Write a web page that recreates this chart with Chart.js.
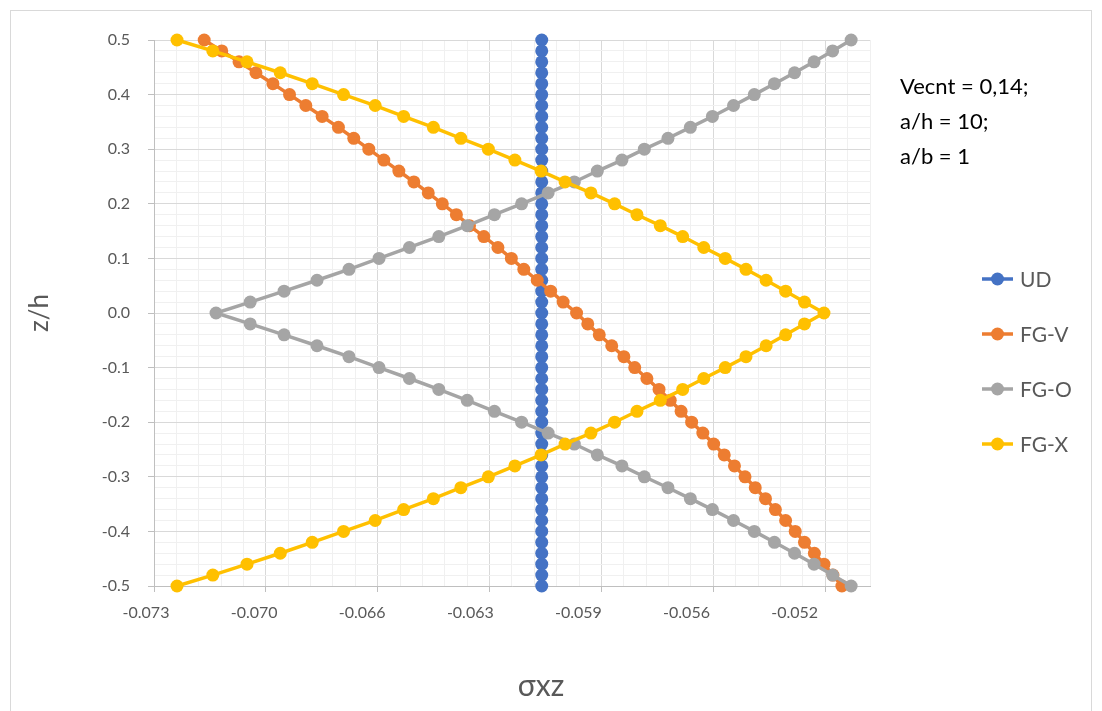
<!DOCTYPE html>
<html>
<head>
<meta charset="utf-8">
<title>σxz through the thickness</title>
<script src="https://cdn.jsdelivr.net/npm/chart.js@4.4.1/dist/chart.umd.min.js"></script>
<style>
  html, body { margin: 0; padding: 0; background: #ffffff; overflow: hidden; }
  #wrap { position: relative; width: 1102px; height: 711px; }
  #wrap canvas { position: absolute; left: 0; top: 0; }
  #frame { position: absolute; left: 10px; top: 10px; width: 1082px; height: 720px;
           border: 1px solid #d9d9d9; box-sizing: border-box; pointer-events: none; }
</style>
</head>
<body>
<div id="wrap">
  <canvas id="chart" width="1102" height="711"></canvas>
  <div id="frame"></div>
</div>
<script>
// Thickness coordinate z/h, top surface to bottom surface
const zValues = [
  0.50, 0.48, 0.46, 0.44, 0.42, 0.40, 0.38, 0.36, 0.34, 0.32,
  0.30, 0.28, 0.26, 0.24, 0.22, 0.20, 0.18, 0.16, 0.14, 0.12,
  0.10, 0.08, 0.06, 0.04, 0.02, 0.00, -0.02, -0.04, -0.06, -0.08,
  -0.10, -0.12, -0.14, -0.16, -0.18, -0.20, -0.22, -0.24, -0.26, -0.28,
  -0.30, -0.32, -0.34, -0.36, -0.38, -0.40, -0.42, -0.44, -0.46, -0.48,
  -0.50
];

// Shear stress σxz for each CNT distribution
const udValues = [
  -0.06087, -0.06087, -0.06087, -0.06087, -0.06087, -0.06087, -0.06087, -0.06087, -0.06087, -0.06087,
  -0.06087, -0.06087, -0.06087, -0.06087, -0.06087, -0.06087, -0.06087, -0.06087, -0.06087, -0.06087,
  -0.06087, -0.06087, -0.06087, -0.06087, -0.06087, -0.06087, -0.06087, -0.06087, -0.06087, -0.06087,
  -0.06087, -0.06087, -0.06087, -0.06087, -0.06087, -0.06087, -0.06087, -0.06087, -0.06087, -0.06087,
  -0.06087, -0.06087, -0.06087, -0.06087, -0.06087, -0.06087, -0.06087, -0.06087, -0.06087, -0.06087,
  -0.06087
];

const fgvValues = [
  -0.07143, -0.07088, -0.07034, -0.06981, -0.06928, -0.06876, -0.06825, -0.06774, -0.06723, -0.06675,
  -0.06628, -0.06581, -0.06534, -0.06487, -0.06442, -0.06398, -0.06354, -0.06313, -0.06268, -0.06224,
  -0.06182, -0.06143, -0.06101, -0.06059, -0.06020, -0.05978, -0.05943, -0.05907, -0.05868, -0.05830,
  -0.05796, -0.05758, -0.05720, -0.05685, -0.05651, -0.05618, -0.05583, -0.05549, -0.05516, -0.05484,
  -0.05451, -0.05419, -0.05387, -0.05356, -0.05324, -0.05294, -0.05265, -0.05234, -0.05204, -0.05176,
  -0.05148
];

const fgoValues = [
  -0.05119, -0.05177, -0.05235, -0.05296, -0.05359, -0.05422, -0.05487, -0.05553, -0.05622, -0.05692,
  -0.05766, -0.05836, -0.05913, -0.05985, -0.06067, -0.06150, -0.06235, -0.06320, -0.06409, -0.06501,
  -0.06596, -0.06690, -0.06790, -0.06893, -0.06999, -0.07106, -0.06999, -0.06893, -0.06790, -0.06690,
  -0.06596, -0.06501, -0.06409, -0.06320, -0.06235, -0.06150, -0.06067, -0.05985, -0.05913, -0.05836,
  -0.05766, -0.05692, -0.05622, -0.05553, -0.05487, -0.05422, -0.05359, -0.05296, -0.05235, -0.05177,
  -0.05119
];

const fgxValues = [
  -0.07228, -0.07116, -0.07009, -0.06905, -0.06805, -0.06707, -0.06608, -0.06519, -0.06426, -0.06340,
  -0.06254, -0.06171, -0.06089, -0.06014, -0.05933, -0.05859, -0.05789, -0.05716, -0.05646, -0.05580,
  -0.05513, -0.05448, -0.05385, -0.05324, -0.05265, -0.05204, -0.05265, -0.05324, -0.05385, -0.05448,
  -0.05513, -0.05580, -0.05646, -0.05716, -0.05789, -0.05859, -0.05933, -0.06014, -0.06089, -0.06171,
  -0.06254, -0.06340, -0.06426, -0.06519, -0.06608, -0.06707, -0.06805, -0.06905, -0.07009, -0.07116,
  -0.07228
];

const seriesNames  = ['UD', 'FG-V', 'FG-O', 'FG-X'];
const seriesColors = ['#4472C4', '#ED7D31', '#A5A5A5', '#FFC000'];
const seriesValues = [udValues, fgvValues, fgoValues, fgxValues];

// Axis tick labels (major ticks)
const xTickLabels = ['-0.073', '-0.070', '-0.066', '-0.063', '-0.059', '-0.056', '-0.052'];
const yTickLabels = ['-0.5', '-0.4', '-0.3', '-0.2', '-0.1', '0.0', '0.1', '0.2', '0.3', '0.4', '0.5'];

// Parameters printed beside the plot
const noteLines = ['Vecnt = 0,14;', 'a/h = 10;', 'a/b = 1'];

// Axis ranges: five minor divisions per major division
const xMin = -0.073, xMajor = 0.0035, xMinorCount = 32;
const yMin = -0.5, yMax = 0.5, yMinor = 0.02;

// The printed x labels run on a slightly tighter pitch than the grid
const xLabelStart = -0.07325, xLabelPitch = 0.003382;

const xMinor = xMajor / 5;
const xMax = +(xMin + xMinorCount * xMinor).toFixed(5);

// x ticks: grid ticks (with lines) followed by label-only ticks
const xTicks = [];
for (let i = 0; i <= xMinorCount; i++) {
  xTicks.push({ value: +(xMin + i * xMinor).toFixed(6), kind: i % 5 === 0 ? 'major' : 'minor', text: '' });
}
xTickLabels.forEach((t, k) => xTicks.push({ value: xLabelStart + k * xLabelPitch, kind: 'label', text: t }));

const yTicks = [];
for (let i = 0; i <= Math.round((yMax - yMin) / yMinor); i++) {
  yTicks.push({ value: +(yMin + i * yMinor).toFixed(4), kind: i % 5 === 0 ? 'major' : 'minor',
                text: i % 5 === 0 ? yTickLabels[i / 5] : '' });
}

const FONT = 'Lato, "Open Sans", sans-serif';
const MAJOR_GRID = '#d9d9d9', MINOR_GRID = '#f0f0f0', AXIS_LINE = '#bfbfbf', TEXT = '#595959';
const NONE = 'rgba(0,0,0,0)';

const gridColour = c => {
  const k = c.tick && c.tick.kind;
  return k === 'major' ? MAJOR_GRID : k === 'minor' ? MINOR_GRID : NONE;
};
const tickMarkColour = c => (c.tick && c.tick.kind === 'major' ? AXIS_LINE : NONE);

const datasets = seriesNames.map((name, s) => ({
  label: name,
  data: zValues.map((z, i) => ({ x: seriesValues[s][i], y: z })),
  showLine: true,
  borderColor: seriesColors[s],
  backgroundColor: seriesColors[s],
  borderWidth: 3.5,
  pointRadius: 6.5,
  pointBorderWidth: 0,
  pointBackgroundColor: seriesColors[s],
  pointHoverRadius: 6.5,
  tension: 0,
  clip: false,
  order: seriesNames.length - 1 - s   // later series are painted above earlier ones
}));

// Parameter note, x-axis title and series key
const sidePanel = {
  id: 'sidePanel',
  afterDraw(chart) {
    const ctx = chart.ctx;
    ctx.save();
    ctx.textBaseline = 'middle';
    ctx.textAlign = 'left';
    ctx.font = '22px ' + FONT;
    ctx.fillStyle = '#000000';
    noteLines.forEach((t, i) => ctx.fillText(t, 900, 87 + i * 35));

    seriesNames.forEach((name, i) => {
      const y = 279 + i * 55;
      ctx.strokeStyle = seriesColors[i];
      ctx.lineWidth = 3.5;
      ctx.beginPath();
      ctx.moveTo(982, y);
      ctx.lineTo(1013, y);
      ctx.stroke();
      ctx.fillStyle = seriesColors[i];
      ctx.beginPath();
      ctx.arc(997.5, y, 6.5, 0, Math.PI * 2);
      ctx.fill();
      ctx.fillStyle = TEXT;
      ctx.font = '21px ' + FONT;
      ctx.fillText(name, 1020, y + 1);
    });

    ctx.textAlign = 'center';
    ctx.fillStyle = TEXT;
    ctx.font = '30px ' + FONT;
    ctx.fillText('σxz', 541, 686);
    ctx.restore();
  }
};

new Chart(document.getElementById('chart'), {
  type: 'scatter',
  data: { datasets },
  plugins: [sidePanel],
  options: {
    responsive: false,
    devicePixelRatio: 1,
    animation: false,
    events: [],
    layout: { padding: { left: 0, top: 40, right: 232, bottom: 0 } },
    plugins: { legend: { display: false }, tooltip: { enabled: false } },
    scales: {
      x: {
        type: 'linear',
        min: xMin,
        max: xMax,
        afterBuildTicks(scale) { scale.ticks = xTicks.map(t => ({ ...t })); },
        afterFit(scale) { scale.height = 125; },
        ticks: {
          autoSkip: false,
          maxRotation: 0,
          padding: 11,
          color: TEXT,
          font: { family: FONT, size: 16 },
          callback: (v, i, ticks) => ticks[i].text
        },
        grid: {
          color: gridColour,
          lineWidth: 1,
          drawTicks: true,
          tickLength: 6,
          tickColor: tickMarkColour
        },
        border: { display: true, color: AXIS_LINE, width: 1 },
        title: { display: false }
      },
      y: {
        type: 'linear',
        min: yMin,
        max: yMax,
        afterBuildTicks(scale) { scale.ticks = yTicks.map(t => ({ ...t })); },
        afterFit(scale) { scale.width = 154; },
        ticks: {
          autoSkip: false,
          padding: 18,
          color: TEXT,
          font: { family: FONT, size: 16 },
          callback: (v, i, ticks) => ticks[i].text
        },
        grid: {
          color: gridColour,
          lineWidth: 1,
          drawTicks: true,
          tickLength: 6,
          tickColor: tickMarkColour
        },
        border: { display: true, color: AXIS_LINE, width: 1 },
        title: {
          display: true,
          text: 'z/h',
          color: TEXT,
          font: { family: FONT, size: 26 },
          padding: { top: 24, bottom: 0 }
        }
      }
    }
  }
});
</script>
</body>
</html>
